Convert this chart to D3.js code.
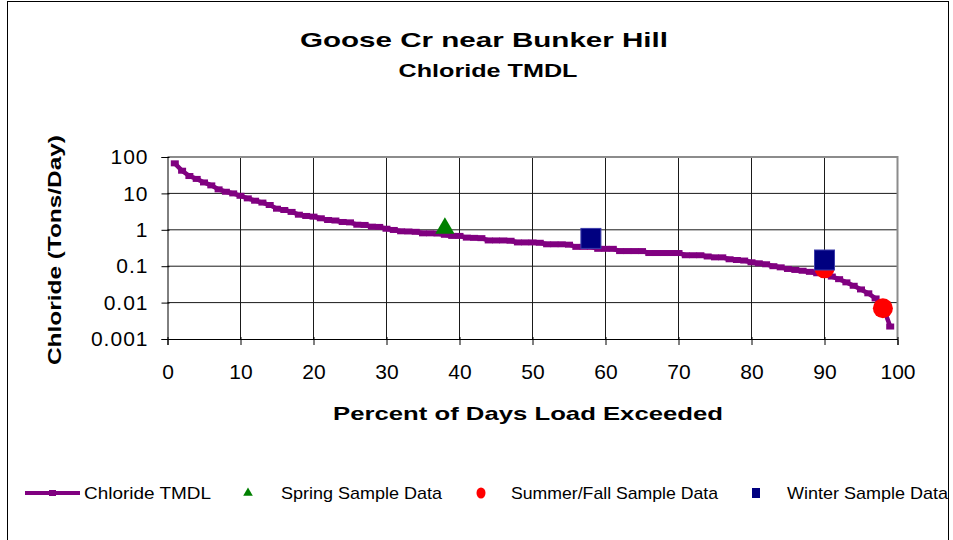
<!DOCTYPE html>
<html>
<head>
<meta charset="utf-8">
<script src="https://cdn.jsdelivr.net/npm/d3@7"></script>
<style>
  body { margin: 0; background: #fff; }
  svg { display: block; font-family: "Liberation Sans", Arial, sans-serif; }
</style>
</head>
<body>
<div id="chart"></div>
<script>
// percent of days load exceeded
const percents = [1,2,3,4,5,6,7,8,9,10,11,12,13,14,15,16,17,18,19,20,
  21,22,23,24,25,26,27,28,29,30,31,32,33,34,35,36,37,38,39,40,
  41,42,43,44,45,46,47,48,49,50,51,52,53,54,55,56,57,58,59,60,
  61,62,63,64,65,66,67,68,69,70,71,72,73,74,75,76,77,78,79,80,
  81,82,83,84,85,86,87,88,89,90,91,92,93,94,95,96,97,98,99];
// chloride TMDL (tons/day)
const tmdl = [67,42,30,25,20,16.6,12.9,11.1,10,8.6,7.3,6.3,5.6,4.8,3.8,3.5,3.1,2.6,2.4,2.3,
  2.07,1.86,1.8,1.64,1.6,1.38,1.36,1.22,1.2,1.07,0.99,0.91,0.9,0.88,0.8,0.8,0.79,0.73,0.68,0.68,
  0.61,0.6,0.59,0.51,0.51,0.51,0.5,0.45,0.45,0.45,0.44,0.4,0.4,0.4,0.39,0.34,0.34,0.34,0.3,0.3,
  0.3,0.26,0.26,0.26,0.26,0.23,0.23,0.23,0.23,0.23,0.2,0.2,0.2,0.185,0.175,0.175,0.155,0.148,0.143,0.128,
  0.12,0.113,0.1,0.093,0.084,0.079,0.075,0.07,0.064,0.06,0.052,0.044,0.036,0.029,0.023,0.018,0.013,0.0078,0.0022];

const springX = [38];
const springY = [1.17];
const summerX = [90, 98];
const summerY = [0.0875, 0.007];
const winterX = [58, 90];
const winterY = [0.58, 0.148];

const xTicks = [0,10,20,30,40,50,60,70,80,90,100];
const yTicks = [0.001,0.01,0.1,1,10,100];

const width = 953, height = 540;
const margin = { top: 157, right: 55.5, bottom: 201, left: 167.5 };
const innerW = width - margin.left - margin.right;
const innerH = height - margin.top - margin.bottom;

const svg = d3.select("#chart").append("svg")
  .attr("width", width)
  .attr("height", height);

// outer chart frame
svg.append("rect")
  .attr("x", 7.5).attr("y", 1.5)
  .attr("width", 941).attr("height", 560)
  .attr("fill", "none").attr("stroke", "#000").attr("stroke-width", 1);

const x = d3.scaleLinear().domain([0, 100]).range([0, innerW]);
const y = d3.scaleLog().domain([0.001, 100]).range([innerH, 0]);

const g = svg.append("g").attr("transform", `translate(${margin.left},${margin.top})`);

// gridlines
g.selectAll(".vgrid").data(xTicks.slice(1, -1)).enter().append("line")
  .attr("x1", d => x(d)).attr("x2", d => x(d))
  .attr("y1", 0).attr("y2", innerH)
  .attr("stroke", "#1a1a1a").attr("stroke-width", 1);
g.selectAll(".hgrid").data(yTicks.slice(1, -1)).enter().append("line")
  .attr("x1", 0).attr("x2", innerW)
  .attr("y1", d => y(d)).attr("y2", d => y(d))
  .attr("stroke", "#1a1a1a").attr("stroke-width", 1);

// plot area border (grey, top and right)
g.append("path")
  .attr("d", `M0,0H${innerW}V${innerH}`)
  .attr("fill", "none").attr("stroke", "#8c8c8c").attr("stroke-width", 2);

// axes
const yAxis = g.append("g")
  .call(d3.axisLeft(y).tickValues(yTicks).tickFormat(d3.format("~g")).tickSize(6).tickPadding(13));
yAxis.select(".domain").attr("stroke", "#000");
yAxis.selectAll(".tick line").attr("x1", 2);
yAxis.selectAll(".tick text").attr("font-size", 21).attr("fill", "#000")
  .attr("letter-spacing", 1)
  .attr("font-family", "Liberation Sans, Arial, sans-serif");

const xAxis = g.append("g")
  .attr("transform", `translate(0,${innerH})`)
  .call(d3.axisBottom(x).tickValues(xTicks).tickSize(6).tickPadding(19));
xAxis.select(".domain").attr("stroke", "#000");
xAxis.selectAll(".tick line").attr("y1", -2);
xAxis.selectAll(".tick text").attr("font-size", 21).attr("fill", "#000")
  .attr("font-family", "Liberation Sans, Arial, sans-serif");

// TMDL curve
const curve = percents.map((p, i) => ({ p: p, v: tmdl[i] }));
const line = d3.line().x(d => x(d.p)).y(d => y(d.v));
g.append("path").datum(curve)
  .attr("fill", "none").attr("stroke", "#800080").attr("stroke-width", 4.5)
  .attr("d", line);
g.selectAll(".tm").data(curve).enter().append("rect")
  .attr("x", d => x(d.p) - 4).attr("y", d => y(d.v) - 3)
  .attr("width", 8).attr("height", 6)
  .attr("fill", "#800080");

// sample data
const tri = d3.symbol().type(d3.symbolTriangle).size(160);
g.selectAll(".spring").data(springX).enter().append("path")
  .attr("d", tri)
  .attr("transform", (d, i) => `translate(${x(d)},${y(springY[i]) + 1})`)
  .attr("fill", "#008000");

g.selectAll(".summer").data(summerX).enter().append("circle")
  .attr("cx", d => x(d)).attr("cy", (d, i) => y(summerY[i]))
  .attr("r", 10).attr("fill", "#ff0000");

g.selectAll(".winter").data(winterX).enter().append("rect")
  .attr("x", d => x(d) - 10).attr("y", (d, i) => y(winterY[i]) - 10)
  .attr("width", 20).attr("height", 20)
  .attr("fill", "#000080").attr("stroke", "#3c3caa").attr("stroke-width", 1);

// titles
svg.append("text").attr("x", 484).attr("y", 47)
  .attr("text-anchor", "middle").attr("font-size", 21).attr("font-weight", "bold")
  .attr("textLength", 368).attr("lengthAdjust", "spacingAndGlyphs")
  .text("Goose Cr near Bunker Hill");
svg.append("text").attr("x", 488).attr("y", 77)
  .attr("text-anchor", "middle").attr("font-size", 18).attr("font-weight", "bold")
  .attr("textLength", 179).attr("lengthAdjust", "spacingAndGlyphs")
  .text("Chloride TMDL");

svg.append("text").attr("x", 528).attr("y", 420)
  .attr("text-anchor", "middle").attr("font-size", 19).attr("font-weight", "bold")
  .attr("textLength", 390).attr("lengthAdjust", "spacingAndGlyphs")
  .text("Percent of Days Load Exceeded");

svg.append("text")
  .attr("transform", "translate(61,250) rotate(-90)")
  .attr("text-anchor", "middle").attr("font-size", 19).attr("font-weight", "bold")
  .attr("textLength", 230).attr("lengthAdjust", "spacingAndGlyphs")
  .text("Chloride (Tons/Day)");

// legend
const legendY = 493;
const lg = svg.append("g");
lg.append("line").attr("x1", 25).attr("x2", 80).attr("y1", legendY).attr("y2", legendY)
  .attr("stroke", "#800080").attr("stroke-width", 4);
lg.append("rect").attr("x", 49).attr("y", legendY - 3).attr("width", 7).attr("height", 6)
  .attr("fill", "#800080");
lg.append("path").attr("d", d3.symbol().type(d3.symbolTriangle).size(40))
  .attr("transform", `translate(248,${legendY})`).attr("fill", "#008000");
lg.append("ellipse").attr("cx", 481).attr("cy", legendY).attr("rx", 4.5).attr("ry", 5.5)
  .attr("fill", "#ff0000");
lg.append("rect").attr("x", 752).attr("y", legendY - 5).attr("width", 8).attr("height", 10)
  .attr("fill", "#000080");

const legendLabels = ["Chloride TMDL", "Spring Sample Data", "Summer/Fall Sample Data", "Winter Sample Data"];
const legendTextX = [84, 281, 511, 787];
const legendTextW = [127, 161, 207, 161];
lg.selectAll(".lt").data(legendLabels).enter().append("text")
  .attr("x", (d, i) => legendTextX[i]).attr("y", legendY + 6)
  .attr("font-size", 17)
  .attr("textLength", (d, i) => legendTextW[i]).attr("lengthAdjust", "spacingAndGlyphs")
  .text(d => d);
</script>
</body>
</html>
